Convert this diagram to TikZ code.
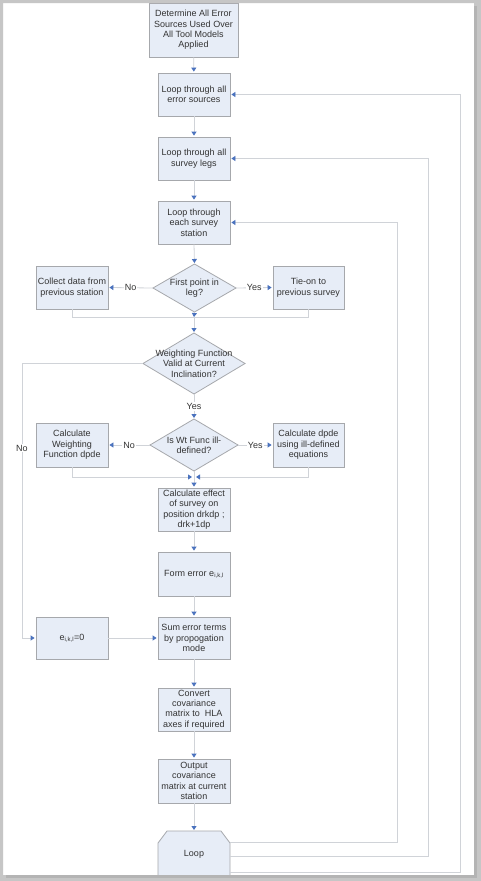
\documentclass[tikz,border=0pt]{standalone}
\usepackage{fontspec}
\setmainfont{Liberation Sans}
\usetikzlibrary{arrows.meta,calc}
\definecolor{boxfill}{HTML}{E7EDF7}
\definecolor{boxline}{HTML}{A6A8AC}
\definecolor{connc}{HTML}{D0D3D8}
\definecolor{tipc}{HTML}{4A72BE}
\definecolor{txtc}{HTML}{333333}
\definecolor{framec}{HTML}{C6C6C6}
\definecolor{shadowc}{HTML}{B4B4B4}
\tikzset{
  fnt/.style={font=\fontsize{9}{10.4}\selectfont, text=txtc},
  proc/.style={fnt, draw=boxline, fill=boxfill, line width=0.8pt, minimum width=72pt, minimum height=43pt, inner sep=0pt, align=center},
  txt/.style={fnt, align=center, inner sep=0pt},
  dia/.style={draw=boxline, fill=boxfill, line width=0.8pt},
  link/.style={draw=connc, line width=0.8pt},
  arr/.style={link, -{Triangle[length=4pt,width=5pt,color=tipc,fill=tipc]}, shorten >=1pt},
  lbl/.style={fnt, fill=white, inner sep=1pt},
}
\begin{document}
\begin{tikzpicture}[x=1pt,y=-1pt]
\useasboundingbox (0,0) rectangle (481,881);
\fill[white] (0,0) rectangle (481,881);

% process boxes
\node[proc, minimum width=89pt, minimum height=54pt] (b1) at (193.5,30) {Determine All Error\\Sources Used Over\\All Tool Models\\Applied};
\node[proc] (b2) at (194,94.5) {Loop through all\\error sources};
\node[proc] (b3) at (194,158.5) {Loop through all\\survey legs};
\node[proc] (b4) at (194,222.5) {Loop through\\each survey\\station};
\node[proc] (c1) at (72,287.5) {Collect data from\\previous station};
\node[proc, minimum width=71pt] (t1) at (308.5,287.5) {Tie-on to\\previous survey};
\node[proc, minimum height=44pt] (c2) at (72,445) {Calculate\\Weighting\\Function dpde};
\node[proc, minimum width=71pt, minimum height=44pt] (t2) at (308.5,445) {Calculate dpde\\using ill-defined\\equations};
\node[proc] (b5) at (194,509.5) {Calculate effect\\of survey on\\position drkdp ;\\drk+1dp};
\node[proc, minimum height=44pt] (b6) at (194,574) {Form error e\textsubscript{i,k,l}};
\node[proc, minimum height=42pt] (b7) at (194,638) {Sum error terms\\by propogation\\mode};
\node[proc, minimum height=42pt] (e0) at (72,638) {e\textsubscript{i,k,l}=0};
\node[proc] (b8) at (194,709.5) {Convert\\covariance\\matrix to\ \ HLA\\axes if required};
\node[proc, minimum height=44pt] (b9) at (194,781) {Output\\covariance\\matrix at current\\station};

% decision diamonds
\coordinate (d1) at (194.5,288);
\draw[dia] ($(d1)+(-41.5,0)$) coordinate (d1w) -- ($(d1)+(0,-24)$) coordinate (d1n)
  -- ($(d1)+(41.5,0)$) coordinate (d1e) -- ($(d1)+(0,24)$) coordinate (d1s) -- cycle;
\node[txt] (d1t) at (d1) {First point in\\leg?};

\coordinate (d2) at (194,363.5);
\draw[dia] ($(d2)+(-51,0)$) coordinate (d2w) -- ($(d2)+(0,-30.5)$) coordinate (d2n)
  -- ($(d2)+(51,0)$) coordinate (d2e) -- ($(d2)+(0,30.5)$) coordinate (d2s) -- cycle;
\node[txt] (d2t) at (d2) {Weighting Function\\Valid at Current\\Inclination?};

\coordinate (d3) at (194,445);
\draw[dia] ($(d3)+(-44,0)$) coordinate (d3w) -- ($(d3)+(0,-26)$) coordinate (d3n)
  -- ($(d3)+(44,0)$) coordinate (d3e) -- ($(d3)+(0,26)$) coordinate (d3s) -- cycle;
\node[txt] (d3t) at (d3) {Is Wt Func ill-\\defined?};

% loop terminator (chamfered top)
\draw[dia] (158,880) -- (158,843) -- (167,831) coordinate (lpl) -- (221,831) -- (230,843) -- (230,880);
\coordinate (looptop) at (194,831);
\node[txt] (loop) at (194,854) {Loop};
\coordinate (lp1) at (230,842);
\coordinate (lp2) at (230,856);
\coordinate (lp3) at (230,872);

% merge points
\coordinate (m1) at (194,317);
\coordinate (m2) at (194,477);

% main flow
\draw[arr] (b1) -- (b2);
\draw[arr] (b2) -- (b3);
\draw[arr] (b3) -- (b4);
\draw[arr] (b4.south) -- (d1n);
\draw[arr] (d1w) -- node[lbl]{No} (c1.east);
\draw[arr] (d1e) -- node[lbl]{Yes} (t1.west);
\draw[link] (c1.south) |- (m1);
\draw[link] (t1.south) |- (m1);
\draw[arr, shorten >=0pt] (d1s) -- (m1);
\draw[arr] (m1) -- (d2n);
\draw[arr] (d2s) -- node[lbl]{Yes} (d3n);
\draw[arr] (d2w) -- ++(-121,0) |- node[lbl, pos=0.154]{No} (e0.west);
\draw[arr] (d3w) -- node[lbl]{No} (c2.east);
\draw[arr] (d3e) -- node[lbl]{Yes} (t2.west);
\draw[arr, shorten >=2pt] (c2.south) |- (m2);
\draw[arr, shorten >=2pt] (t2.south) |- (m2);
\draw[link] (d3s) -- (m2);
\draw[arr] (m2) -- (b5.north);
\draw[arr] (b5) -- (b6);
\draw[arr] (b6) -- (b7);
\draw[arr] (e0) -- (b7);
\draw[arr] (b7) -- (b8);
\draw[arr] (b8) -- (b9);
\draw[arr] (b9.south) -- (looptop);

% loop-back connectors
\draw[arr] (lp1) -- ++(167,0) |- (b4.east);
\draw[arr] (lp2) -- ++(198,0) |- (b3.east);
\draw[arr] (lp3) -- ++(230,0) |- (b2.east);

% page frame and shadow
\fill[framec, even odd rule] (0,0) rectangle (481,881) (3,3) rectangle (474,875);
\fill[shadowc] (474,6) rectangle (477,878);
\fill[shadowc] (6,875) rectangle (477,878);
\end{tikzpicture}
\end{document}
